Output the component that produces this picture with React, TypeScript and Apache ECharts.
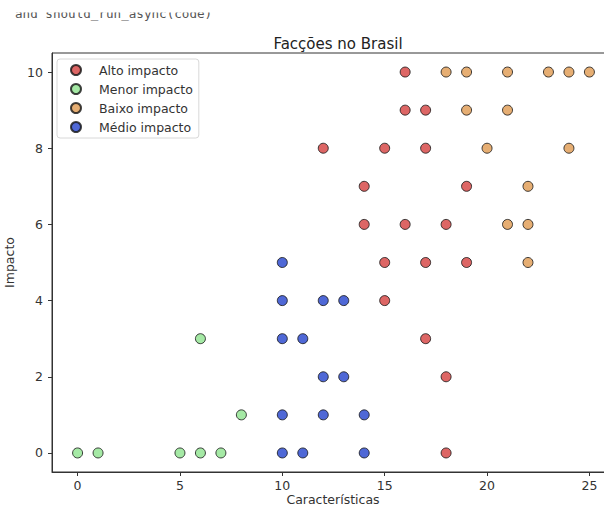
import React, { useEffect, useRef } from "react";
import * as echarts from "echarts";

const seriesNames = ["Alto impacto", "Menor impacto", "Baixo impacto", "Médio impacto"];
const seriesColors = ["#d5403f", "#8fe38f", "#e09a50", "#2342cc"];

const altoImpacto: [number, number][] = [
  [16, 10], [16, 9], [17, 9], [12, 8], [15, 8], [17, 8], [14, 7], [19, 7],
  [14, 6], [16, 6], [18, 6], [15, 5], [17, 5], [19, 5], [15, 4], [17, 3], [18, 2], [18, 0],
];
const menorImpacto: [number, number][] = [
  [6, 3], [8, 1], [0, 0], [1, 0], [5, 0], [6, 0], [7, 0],
];
const baixoImpacto: [number, number][] = [
  [18, 10], [19, 10], [21, 10], [23, 10], [24, 10], [25, 10], [19, 9], [21, 9],
  [20, 8], [24, 8], [22, 7], [21, 6], [22, 6], [22, 5],
];
const medioImpacto: [number, number][] = [
  [10, 5], [10, 4], [12, 4], [13, 4], [10, 3], [11, 3], [12, 2], [13, 2],
  [10, 1], [12, 1], [14, 1], [10, 0], [11, 0], [14, 0],
];

const xTicks = [0, 5, 10, 15, 20, 25];
const yTicks = [0, 2, 4, 6, 8, 10];

const FONT = "DejaVu Sans";

export default function App() {
  const ref = useRef<HTMLDivElement>(null);
  useEffect(() => {
    document.body.style.margin = "0";
    const chart = echarts.init(ref.current!, undefined, { renderer: "svg" });
    const allData = [altoImpacto, menorImpacto, baixoImpacto, medioImpacto];
    const axisCommon = {
      type: "value" as const,
      splitLine: { show: false },
      axisLine: { show: true, onZero: false, lineStyle: { color: "#333", width: 1 } },
      axisTick: { show: true, inside: false, length: 4, lineStyle: { color: "#333" } },
      nameTextStyle: { fontFamily: FONT, fontSize: 12.5, color: "#333" },
    };
    chart.setOption({
      animation: false,
      backgroundColor: "#fff",
      title: {
        text: "Facções no Brasil",
        left: 333,
        top: 31,
        textAlign: "center",
        textStyle: { fontFamily: FONT, fontSize: 15, fontWeight: "normal", color: "#222" },
      },
      grid: {
        left: 52,
        top: 53,
        width: 563,
        height: 419,
        show: true,
        borderColor: "#333",
        borderWidth: 1,
        containLabel: false,
        outerBoundsMode: "none",
      },
      legend: {
        orient: "vertical",
        left: 57,
        top: 59,
        padding: [4, 6, 4, 13],
        itemGap: 5,
        itemWidth: 10,
        itemHeight: 10,
        icon: "circle",
        selectedMode: false,
        backgroundColor: "rgba(255,255,255,0.85)",
        borderColor: "#d8d8d8",
        borderWidth: 1,
        borderRadius: 3,
        textStyle: {
          fontFamily: FONT,
          fontSize: 12.5,
          color: "#333",
          lineHeight: 14,
          padding: [0, 0, 0, 13],
        },
        data: seriesNames,
      },
      xAxis: {
        ...axisCommon,
        min: -1.25,
        max: 26.25,
        axisTick: { ...axisCommon.axisTick, customValues: xTicks },
        axisLabel: {
          customValues: xTicks,
          margin: 7,
          fontFamily: FONT,
          fontSize: 12.5,
          color: "#333",
        },
      },
      yAxis: {
        ...axisCommon,
        min: -0.5,
        max: 10.5,
        name: "Impacto",
        nameLocation: "middle",
        nameGap: 32,
        axisTick: { ...axisCommon.axisTick, customValues: yTicks },
        axisLabel: {
          customValues: yTicks,
          margin: 9,
          fontFamily: FONT,
          fontSize: 12.5,
          color: "#333",
        },
      },
      graphic: [
        {
          type: "text",
          x: 333,
          y: 499,
          style: {
            text: "Características",
            fontFamily: FONT,
            fontSize: 12.5,
            fill: "#333",
            align: "center",
            verticalAlign: "middle",
          },
        },
        {
          type: "text",
          left: 15,
          top: 7,
          z: 10,
          style: {
            text: "and should_run_async(code)",
            fontFamily: "DejaVu Sans Mono",
            fontSize: 12.6,
            fill: "#555",
          },
        },
        {
          type: "rect",
          z: 11,
          shape: { x: 0, y: 0, width: 604, height: 12.5 },
          style: { fill: "#fff" },
        },
      ],
      series: seriesNames.map((name, i) => ({
        name,
        type: "scatter",
        symbol: "circle",
        symbolSize: 10,
        data: allData[i],
        itemStyle: { color: seriesColors[i], borderColor: "#111", borderWidth: 1 },
      })),
    });
    return () => chart.dispose();
  }, []);
  return <div ref={ref} style={{ width: 604, height: 508 }} />;
}
